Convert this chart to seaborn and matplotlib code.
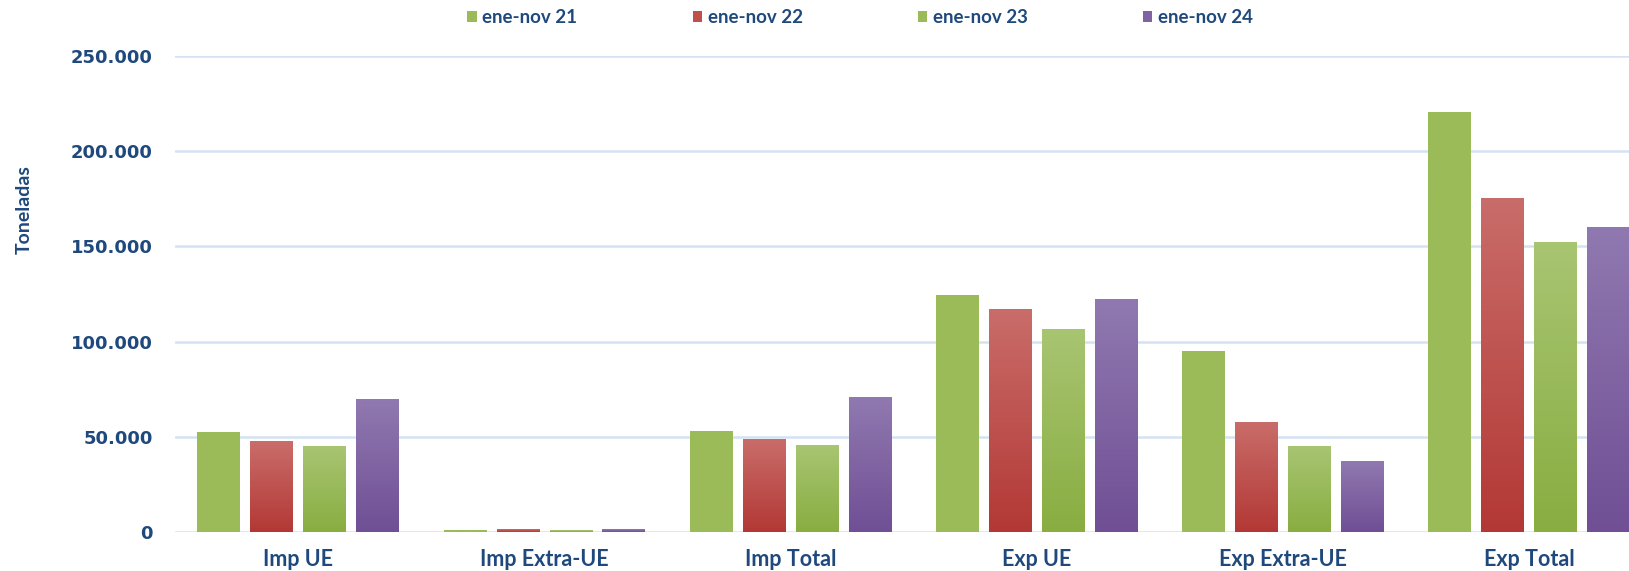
import pandas as pd
import matplotlib.pyplot as plt
import seaborn as sns
import numpy as np
from matplotlib.colors import LinearSegmentedColormap
from matplotlib.patches import Patch
from matplotlib.ticker import FuncFormatter


categorias = ['Imp UE', 'Imp Extra-UE', 'Imp Total', 'Exp UE', 'Exp Extra-UE', 'Exp Total']
periodos = ['ene-nov 21', 'ene-nov 22', 'ene-nov 23', 'ene-nov 24']

ene_nov_21 = [52300, 900, 53200, 124600, 95100, 220700]
ene_nov_22 = [47600, 1400, 48600, 117000, 57900, 175500]
ene_nov_23 = [45100, 900, 45500, 106800, 45100, 152300]
ene_nov_24 = [69900, 1400, 71000, 122300, 37400, 160200]

colores = ['#9BBB59', '#C0504D', '#9BBB59', '#8064A2']
# bottom / top of each bar gradient
degradados = [('#9BBB59', '#9BBB59'),
              ('#B33835', '#C96D6A'),
              ('#89AD41', '#A8C572'),
              ('#704F95', '#9079B0')]

texto = '#1F497D'
rejilla = '#D5E2F3'

df = pd.DataFrame({'categoria': categorias * 4,
                   'periodo': np.repeat(periodos, len(categorias)),
                   'toneladas': ene_nov_21 + ene_nov_22 + ene_nov_23 + ene_nov_24})

sns.set_style('white')

fig = plt.figure(figsize=(16.29, 5.71), dpi=100)
ax = fig.add_axes([0.1074, 0.0683, 0.8926, 0.8336])

sns.barplot(data=df, x='categoria', y='toneladas', hue='periodo',
            palette=colores, width=0.86, gap=0.2, ax=ax, legend=False,
            linewidth=0, errorbar=None, zorder=3)

# vertical gradient inside each bar
for i, cont in enumerate(ax.containers):
    cmap = LinearSegmentedColormap.from_list('g%d' % i, list(degradados[i]))
    grad = np.linspace(0, 1, 256).reshape(-1, 1)
    for bar in cont:
        x0 = bar.get_x()
        w = bar.get_width()
        h = bar.get_height()
        im = ax.imshow(grad, cmap=cmap, extent=[x0, x0 + w, 0, h], origin='lower',
                       aspect='auto', zorder=4)
        im.set_clip_path(bar)

ax.set_xlim(-0.5, 5.406)
ax.set_ylim(0, 250000)
ax.set_yticks([0, 50000, 100000, 150000, 200000, 250000])
ax.yaxis.set_major_formatter(FuncFormatter(lambda v, p: f'{v:,.0f}'.replace(',', '.')))

ax.grid(axis='y', color=rejilla, linewidth=1.8, zorder=0)
ax.set_axisbelow(True)
sns.despine(ax=ax, left=True, bottom=True, top=True, right=True)

ax.tick_params(axis='y', length=0, pad=16, labelsize=13, labelcolor=texto)
ax.tick_params(axis='x', length=0, pad=12, labelcolor=texto)
for lab in ax.get_yticklabels():
    lab.set_fontfamily('DejaVu Sans')
    lab.set_fontweight('bold')
for lab in ax.get_xticklabels():
    lab.set_fontfamily('Lato')
    lab.set_fontweight('bold')
    lab.set_fontsize(15.5)

ax.set_xlabel('')
ax.set_ylabel('')
fig.text(24 / 1629, 1 - 210 / 571, 'Toneladas', rotation=90, ha='center', va='center',
         color=texto, fontsize=14, fontweight='bold', family='Lato')

handles = [Patch(facecolor=c, edgecolor='none') for c in colores]
leg = fig.legend(handles, periodos, ncol=4, loc='center', bbox_to_anchor=(0.528, 0.969),
                 frameon=False, handlelength=0.5, handleheight=0.5, handletextpad=0.3,
                 columnspacing=6.15, prop={'family': 'Lato', 'weight': 'bold', 'size': 13.5})
for t in leg.get_texts():
    t.set_color(texto)

fig.savefig('out.png', dpi=100)
